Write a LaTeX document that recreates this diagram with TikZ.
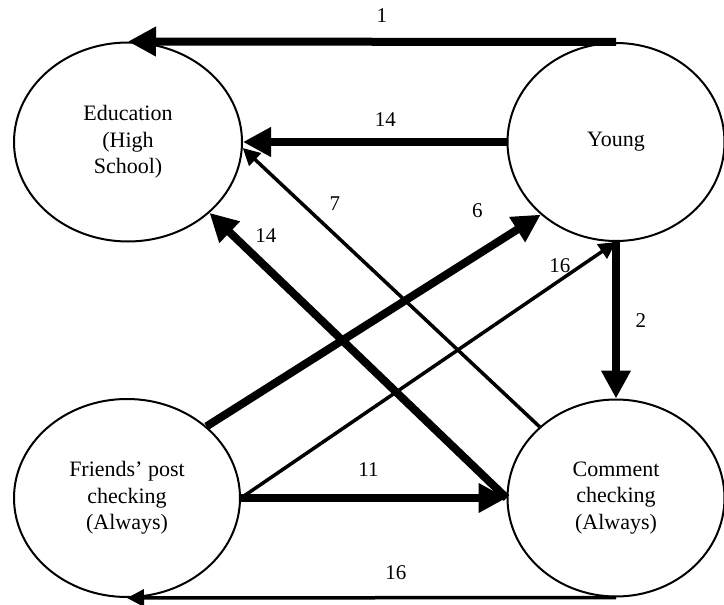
\documentclass[tikz,border=0pt]{standalone}
\usepackage{fontspec}
\setmainfont{Liberation Serif}
\usetikzlibrary{arrows.meta, positioning, shapes.geometric}

\begin{document}
\begin{tikzpicture}[x=0.5pt, y=-0.5pt, font=\fontsize{11}{13.3}\selectfont,
  state/.style={draw, ellipse, line width=1pt, align=center, inner sep=0pt},
  heavy/.style={line width=4pt, -{Triangle[length=14pt, width=14pt]}},
  light/.style={line width=1.75pt, -{Triangle[length=8.5pt, width=8.5pt]}},
  lbl/.style={inner sep=0pt, font=\fontsize{10.5}{12}\selectfont}]
\useasboundingbox (0,0) rectangle (724,605);
\node[state, minimum width=114pt, minimum height=99.5pt] (edu) at (128,142) {Education\\(High\\School)};
\node[state, minimum width=108.5pt, minimum height=99pt] (yo) at (616,142) {Young};
\node[state, minimum width=113pt, minimum height=99pt] (fri) at (127,498) {Friends' post\\checking\\(Always)};
\node[state, minimum width=108.5pt, minimum height=98.5pt] (com) at (616,498) {Comment\\checking\\(Always)};
% edges into Education
\draw[heavy] (yo.north) -- (edu.north) node[lbl, pos=0.48, above=7.5pt] (n1) {1};
\draw[heavy] (yo.west) -- (edu.east) node[lbl, pos=0.46, above=5.75pt] (n14a) {14};
\draw[light] (com.137) -- (edu.-3) node[lbl, pos=0.69, above=11pt] (n7) {7};
\draw[heavy] (com.west) -- (edu.-41) node[lbl, pos=0.81, above=10.5pt] (n14b) {14};
% edges into Young
\draw[heavy] (fri.42) -- (yo.224) node[lbl, pos=0.81, above=16.5pt] (n6) {6};
\draw[light] (fri.east) -- (yo.south) node[lbl, pos=0.85, above=3pt] (n16a) {16};
% edges into Comment
\draw[heavy] (yo.south) -- (com.north) node[lbl, pos=0.5, right=7.75pt] (n2) {2};
\draw[heavy] (fri.east) -- (com.west) node[lbl, pos=0.48, above=8.75pt] (n11) {11};
% back to Friends
\draw[light] (com.south) -- (fri.south) node[lbl, pos=0.45, above=8.25pt] (n16b) {16};
\end{tikzpicture}
\end{document}
